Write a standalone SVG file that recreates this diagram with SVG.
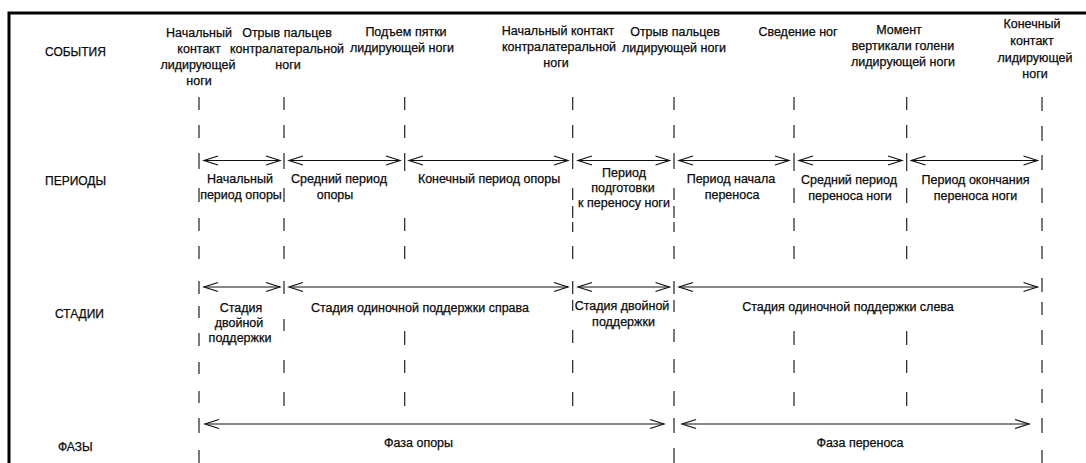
<svg xmlns="http://www.w3.org/2000/svg" width="1086" height="463" viewBox="0 0 1086 463">
<style>
text{font-family:"Liberation Sans",Arial,sans-serif;font-size:12.5px;fill:#0a0a0a;stroke:#0a0a0a;stroke-width:0.25;text-anchor:middle}
.row{font-size:12px;text-anchor:start}
.vl{stroke:#222;stroke-width:1.2;fill:none}
.ar{stroke:#111;stroke-width:1;fill:none;marker-start:url(#chev);marker-end:url(#chev)}
.frame{stroke:#000;stroke-width:3;fill:none}
</style>
<defs>
<marker id="chev" markerUnits="userSpaceOnUse" viewBox="-16 -6 18 12" refX="0" refY="0" markerWidth="18" markerHeight="12" orient="auto-start-reverse">
<path d="M-14,-4.5 L0,0 L-14,4.5" stroke="#111" stroke-width="1.2" fill="none"/>
</marker>
</defs>
<rect width="1086" height="463" fill="#fff"/>
<path class="frame" d="M9,463 V13 H1086"/>

<g id="row-labels">
<g id="lbl-events"><text class="row" x="45" y="56">СОБЫТИЯ</text></g>
<g id="lbl-periods"><text class="row" x="45" y="185">ПЕРИОДЫ</text></g>
<g id="lbl-stages"><text class="row" x="55" y="318">СТАДИИ</text></g>
<g id="lbl-phases"><text class="row" x="58" y="451">ФАЗЫ</text></g>
</g>

<g id="events">
<g id="ev1"><text x="199" y="37">Начальный</text><text x="199" y="53">контакт</text><text x="198" y="69">лидирующей</text><text x="199" y="85">ноги</text></g>
<g id="ev2"><text x="287" y="37">Отрыв пальцев</text><text x="287" y="53">контралатеральной</text><text x="288" y="69">ноги</text></g>
<g id="ev3"><text x="406" y="36">Подъем пятки</text><text x="402" y="52">лидирующей ноги</text></g>
<g id="ev4"><text x="558" y="35">Начальный контакт</text><text x="559" y="51">контралатеральной</text><text x="556" y="67">ноги</text></g>
<g id="ev5"><text x="675" y="36">Отрыв пальцев</text><text x="674" y="52">лидирующей ноги</text></g>
<g id="ev6"><text x="798" y="36">Сведение ног</text></g>
<g id="ev7"><text x="899" y="34">Момент</text><text x="903" y="50">вертикали голени</text><text x="903" y="66">лидирующей ноги</text></g>
<g id="ev8"><text x="1032" y="28">Конечный</text><text x="1032" y="45">контакт</text><text x="1035" y="62">лидирующей</text><text x="1035" y="78">ноги</text></g>
</g>

<g id="periods">
<g id="p1"><text x="240" y="183">Начальный</text><text x="241" y="199">период опоры</text></g>
<g id="p2"><text x="339" y="183">Средний период</text><text x="335" y="199">опоры</text></g>
<g id="p3"><text x="489" y="183">Конечный период опоры</text></g>
<g id="p4"><text x="624" y="177">Период</text><text x="623" y="192">подготовки</text><text x="624" y="207">к переносу ноги</text></g>
<g id="p5"><text x="731" y="183">Период начала</text><text x="732" y="199">переноса</text></g>
<g id="p6"><text x="849" y="184">Средний период</text><text x="850" y="200">переноса ноги</text></g>
<g id="p7"><text x="975.5" y="184">Период окончания</text><text x="975.5" y="200">переноса ноги</text></g>
</g>

<g id="stages">
<g id="s1"><text x="241" y="312">Стадия</text><text x="239" y="327">двойной</text><text x="240" y="342">поддержки</text></g>
<g id="s2"><text x="420" y="312">Стадия одиночной поддержки справа</text></g>
<g id="s3"><text x="622" y="310">Стадия двойной</text><text x="623.5" y="326">поддержки</text></g>
<g id="s4"><text x="848" y="311">Стадия одиночной поддержки слева</text></g>
</g>

<g id="phases">
<g id="f1"><text x="418.5" y="447">Фаза опоры</text></g>
<g id="f2"><text x="860" y="447">Фаза переноса</text></g>
</g>

<g id="connectors">
<g id="dividers">
<path class="vl" d="M199,97V110M199,125V138M199,153V169M199,188V202M199,218V231M199,246V259M199,281V294M199,306V318M199,333V346M199,362V374M199,391V403M199,418V433M199,450V463"/>
<path class="vl" d="M284,97V110M284,125V138M284,153V169M284,188V202M284,218V231M284,246V259M284,281V294M284,319V331M284,360V373M284,392V406"/>
<path class="vl" d="M404.7,97V110M404.7,125V138M404.7,153V171M404.7,218V231M404.7,246V259M404.7,331V345M404.7,360V373M404.7,392V406"/>
<path class="vl" d="M572.7,97V110M572.7,125V138M572.7,153V169M572.7,188V200M572.7,206V218M572.7,222V232M572.7,246V259M572.7,281V294M572.7,300V311M572.7,330V343M572.7,360V373M572.7,392V406"/>
<path class="vl" d="M674,97V110M674,125V138M674,153V169M674,188V200M674,206V218M674,222V232M674,246V259M674,281V294M674,300V312M674,329V342M674,359V373M674,391V406M674,418V433M674,448V463"/>
<path class="vl" d="M794,97V110M794,125V138M794,153V171M794,188V203M794,218V231M794,246V259M794,331V345M794,360V373M794,392V406"/>
<path class="vl" d="M906.7,97V110M906.7,125V138M906.7,153V171M906.7,188V203M906.7,218V231M906.7,246V259M906.7,331V345M906.7,360V373M906.7,392V406"/>
<path class="vl" d="M1042,97V111M1042,126V141M1042,155V170M1042,188V203M1042,218V231M1042,246V259M1042,278V292M1042,302V315M1042,330V345M1042,360V373M1042,389V403M1042,418V433M1042,450V463"/>
</g>
<g id="period-arrows">
<line class="ar" x1="204" y1="160.5" x2="280" y2="160.5"/>
<line class="ar" x1="289" y1="160.5" x2="400" y2="160.5"/>
<line class="ar" x1="409" y1="160.5" x2="568" y2="160.5"/>
<line class="ar" x1="578" y1="160.5" x2="669.5" y2="160.5"/>
<line class="ar" x1="679" y1="160.5" x2="789" y2="160.5"/>
<line class="ar" x1="799" y1="160.5" x2="902" y2="160.5"/>
<line class="ar" x1="911.5" y1="160.5" x2="1037.5" y2="160.5"/>
</g>
<g id="stage-arrows">
<line class="ar" x1="204" y1="287" x2="280" y2="287"/>
<line class="ar" x1="289" y1="287" x2="568" y2="287"/>
<line class="ar" x1="578" y1="287" x2="669.5" y2="287"/>
<line class="ar" x1="679" y1="287" x2="1037.5" y2="287"/>
</g>
<g id="phase-arrows">
<line class="ar" x1="205" y1="424" x2="664" y2="424"/>
<line class="ar" x1="682" y1="424" x2="1029" y2="424"/>
</g>
</g>
</svg>
